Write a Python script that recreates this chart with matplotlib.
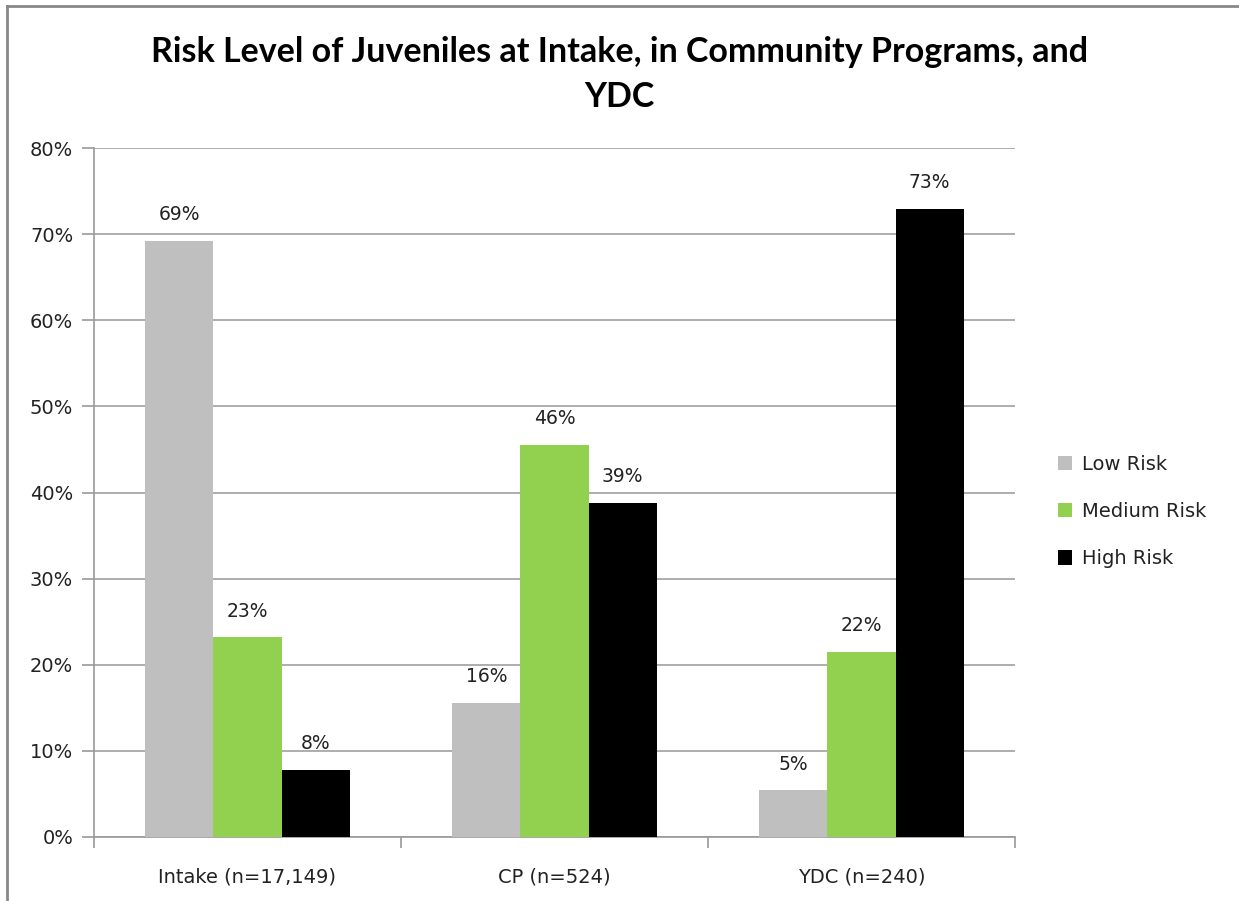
import matplotlib
matplotlib.use("Agg")
import matplotlib.pyplot as plt
from matplotlib.lines import Line2D
import numpy as np

groups = ["Intake (n=17,149)", "CP (n=524)", "YDC (n=240)"]
series = ["Low Risk", "Medium Risk", "High Risk"]
low = [69.2, 15.6, 5.4]
medium = [23.2, 45.5, 21.5]
high = [7.8, 38.8, 72.9]
colors = ["#BFBFBF", "#92D050", "#000000"]

W, H = 1239, 901
fig = plt.figure(figsize=(W / 100, H / 100), dpi=100)
ax = fig.add_axes([94 / W, (H - 837) / H, (1015 - 94) / W, (837 - 148) / H])

x = np.arange(len(groups))
bw = 1 / 4.5
for i, (name, vals) in enumerate(zip(series, [low, medium, high])):
    pos = x + (i - 1) * bw
    bars = ax.bar(pos, vals, width=bw, color=colors[i], label=name, zorder=3)
    for b, v in zip(bars, vals):
        ax.annotate("%d%%" % round(v), (b.get_x() + b.get_width() / 2, v),
                    xytext=(0, 12), textcoords="offset points",
                    ha="center", va="bottom", fontsize=13.5, color="#222222",
                    family="DejaVu Sans")

ax.set_xlim(-0.5, 2.5)
ax.set_ylim(0, 80)
ax.set_yticks(range(0, 81, 10))
ax.set_yticklabels(["%d%%" % t for t in range(0, 81, 10)])
ax.set_xticks(x)
ax.set_xticklabels(groups)
ax.set_xticks([-0.5, 0.5, 1.5, 2.5], minor=True)
ax.tick_params(axis="x", which="major", length=0, pad=22, labelsize=14, labelcolor="#222222")
ax.tick_params(axis="x", which="minor", length=8, width=1.2, color="#999999", direction="out")
ax.tick_params(axis="y", length=9, width=1.2, color="#999999", labelsize=14,
               labelcolor="#222222", pad=6)
ax.grid(axis="y", color="#A0A0A0", linewidth=1.2, zorder=0)
for s in ["top", "right"]:
    ax.spines[s].set_visible(False)
for s in ["left", "bottom"]:
    ax.spines[s].set_color("#999999")
    ax.spines[s].set_linewidth(1.2)

leg = fig.legend(loc="upper left", bbox_to_anchor=(1050 / W, 1 - 447 / H),
                 frameon=False, fontsize=14, handlelength=0.75, handleheight=0.75,
                 handletextpad=0.5, labelspacing=1.45, borderaxespad=0)
for t in leg.get_texts():
    t.set_color("#222222")

fig.text(0.5, 1 - 62 / H, "Risk Level of Juveniles at Intake, in Community Programs, and",
         ha="center", va="baseline", fontsize=24.5, fontweight="bold", family="Lato")
fig.text(0.5, 1 - 107 / H, "YDC", ha="center", va="baseline", fontsize=24.5,
         fontweight="bold", family="Lato")

fig.add_artist(Line2D([7 / W, 7 / W], [0, 1 - 6 / H], color="#888888", linewidth=2))
fig.add_artist(Line2D([7 / W, 1], [1 - 6 / H, 1 - 6 / H], color="#888888", linewidth=2))

fig.savefig("out.png", dpi=100, facecolor="white")
